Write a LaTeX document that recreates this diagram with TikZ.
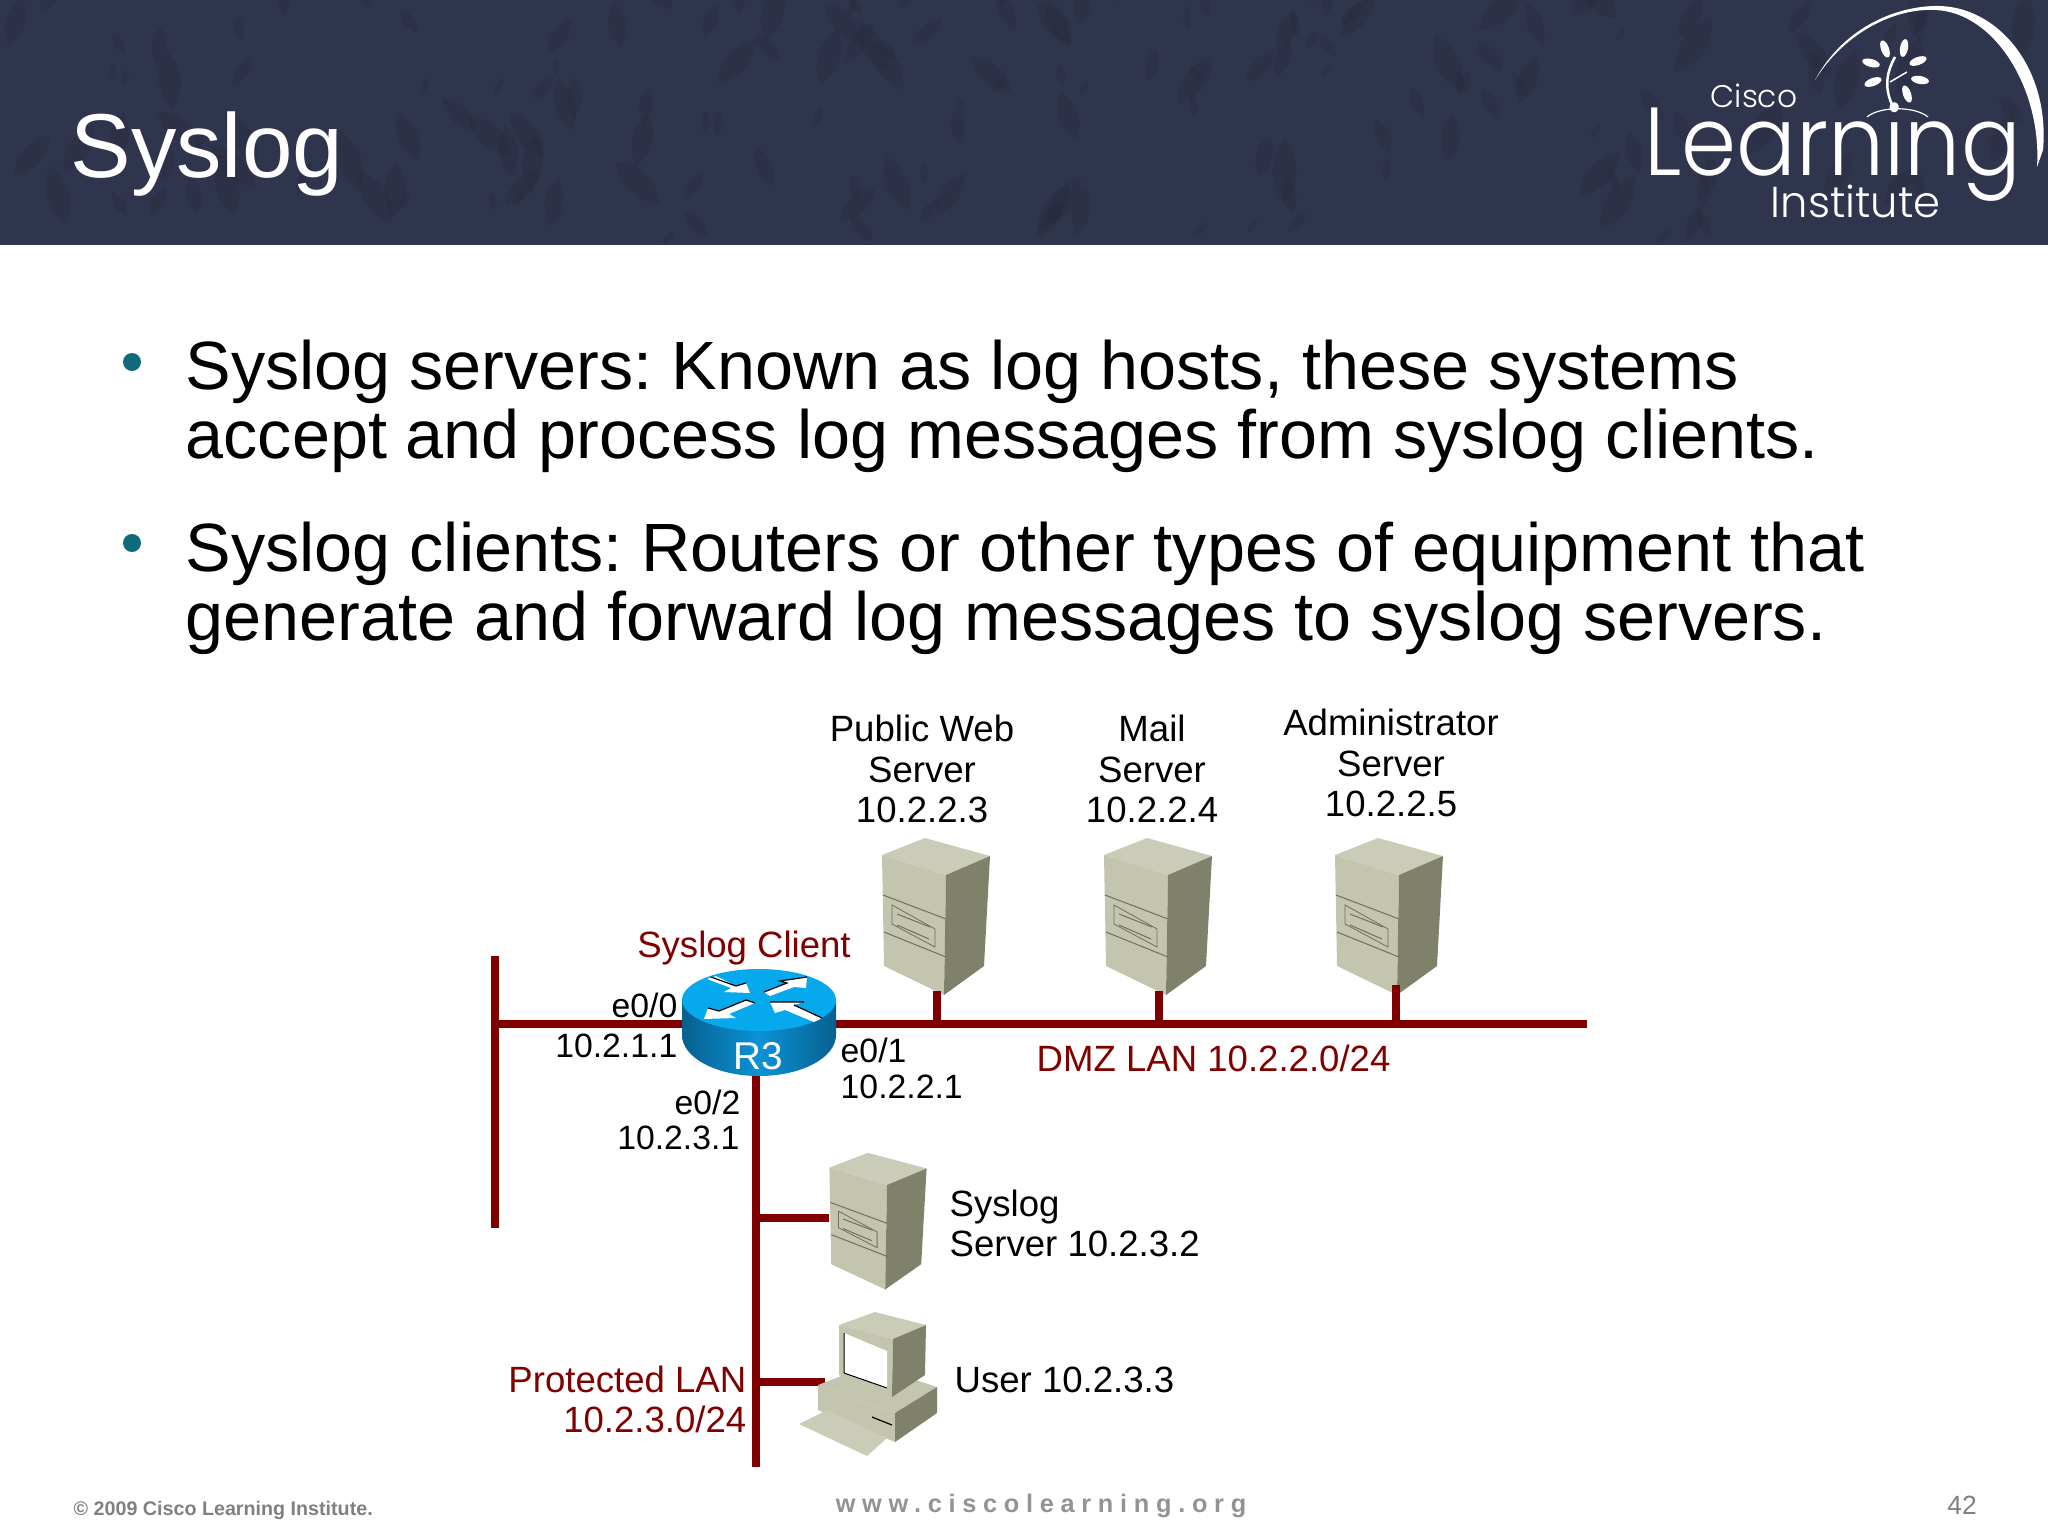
\documentclass[tikz,border=0pt]{standalone}
\usepackage{fontspec}
\setmainfont{Liberation Sans}
\newfontfamily\logofont{Poppins Light}
\newfontfamily\wwwfont[LetterSpace=26.5]{Liberation Sans Bold}
\definecolor{headbg}{HTML}{2F354C}
\definecolor{lanred}{HTML}{800000}
\definecolor{bullteal}{HTML}{0F6A7C}
\definecolor{srvtop}{HTML}{CBCCB7}
\definecolor{srvleft}{HTML}{C4C5AE}
\definecolor{srvright}{HTML}{80816A}
\definecolor{srvline}{HTML}{6F705A}
\definecolor{rtop}{HTML}{05A9EC}
\definecolor{rdark}{HTML}{07608F}
\definecolor{rmid}{HTML}{0B92D6}
\tikzset{
  lanline/.style={line width=0.075cm,color=lanred},
  lbl/.style={inner sep=0pt,font=\fontsize{10.4}{11.4}\selectfont,align=center},
  lblif/.style={inner sep=0pt,font=\fontsize{9.6}{11}\selectfont},
  lblred/.style={lbl,text=lanred},
  bodytext/.style={inner sep=0pt,anchor=base west,align=left,font=\fontsize{19.43}{19.6}\selectfont\frenchspacing},
  routerarrow/.style={fill=white},
  routeredge/.style={black,line width=0.012cm},
  serverbox/.pic={
    \fill[srvtop] (0,0) -- (-64,-20) -- (-21,-37) -- (44,-19) -- cycle;
    \fill[srvleft] (0,0) -- (-64,-20) -- (-62,91) -- (-2,120) -- cycle;
    \fill[srvright] (0,0) -- (44,-19) -- (38,91) -- (-2,120) -- cycle;
    \draw[srvline,line width=0.01cm] (-63,20) -- (0,44) (-62,57) -- (0,82);
    \draw[srvline,line width=0.008cm] (-54,30) -- (-11,54) -- (-11,72) -- (-54,49) -- cycle;
    \draw[srvline,line width=0.01cm] (-49,39) -- (-16,52) (-49,50) -- (-17,64);
    \coordinate (-base) at (-9,116);
    \coordinate (-side) at (-64,38);
  }
}
\begin{document}
\begin{tikzpicture}[x=0.01cm,y=-0.01cm]
  \useasboundingbox (0,0) rectangle (2048,1536);
  % header band
  \fill[headbg] (0,0) rectangle (2048,245);
  \begin{scope}
    \clip (0,0) rectangle (2048,245);
    \pgfmathsetseed{7}
    \foreach \i in {1,...,170} {
      \pgfmathsetmacro{\lx}{rnd*2048}
      \pgfmathsetmacro{\ly}{rnd*245}
      \pgfmathsetmacro{\la}{40+rnd*100}
      \pgfmathsetmacro{\ll}{15+rnd*50}
      \fill[black,opacity=0.06,shift={(\lx,\ly)},rotate=\la] (0,0)
        .. controls (\ll*0.3,-\ll*0.25) and (\ll*0.7,-\ll*0.25) .. (\ll,0)
        .. controls (\ll*0.7,\ll*0.25) and (\ll*0.3,\ll*0.25) .. (0,0);
    }
  \end{scope}
  \node[inner sep=0pt,anchor=base west,text=white,font=\fontsize{25.8}{27}\selectfont] (title) at (70,177) {Syslog};
  % logo
  \fill[white] (1815,80) .. controls (1845,25) and (1900,5) .. (1940,6)
    .. controls (2000,8) and (2050,70) .. (2043,150) -- (2037,167)
    .. controls (2042,90) and (1995,12) .. (1935,10)
    .. controls (1895,8) and (1845,32) .. (1815,80);
  \foreach \lx/\ly/\la in {1885/49/-70,1904/48/80,1871/63/-15,1918/61/20,1873/82/20,1920/80/-10,1907/94/-70}
    \fill[white,shift={(\lx,\ly)},rotate=\la] (0,0) ellipse (9 and 4);
  \draw[white,line width=0.025cm] (1895,57) .. controls (1885,75) and (1885,90) .. (1893,107);
  \draw[white,line width=0.015cm] (1890,82) -- (1907,72);
  \draw[white,line width=0.012cm] (1867,117) .. controls (1880,106) and (1915,106) .. (1928,117);
  \node[inner sep=0pt,anchor=base west,text=white,font=\logofont\fontsize{8.9}{10}\selectfont] (logoa) at (1710,107) {Cisco};
  \node[inner sep=0pt,anchor=base west,text=white,xscale=.915,font=\logofont\fontsize{27.5}{28}\selectfont] (logob) at (1644,175) {Learning};
  \node[inner sep=0pt,anchor=base west,text=white,font=\logofont\fontsize{12.3}{13}\selectfont] (logoc) at (1770,217) {Institute};
  % bullets
  \fill[bullteal] (132,362) circle (9);
  \fill[bullteal] (132,543) circle (9);
  \node[bodytext] (bodya) at (185,458) {Syslog servers: Known as log hosts, these systems\\accept and process log messages from syslog clients.};
  \node[bodytext] (bodyb) at (185,640) {Syslog clients: Routers or other types of equipment that\\generate and forward log messages to syslog servers.};
  % lan lines
  \coordinate (lanleft) at (495,1024);
  \coordinate (lanright) at (1587,1024);
  \coordinate (lantop) at (495,956);
  \coordinate (lanbot) at (495,1228);
  \coordinate (proup) at (756,1070);
  \coordinate (prodown) at (756,1467);
  \coordinate (pcjoin) at (825,1382);
  \coordinate (stubc) at (1396,985);
  \draw[lanline] (lantop) -- (lanbot);
  \draw[lanline] (lanleft) -- (lanright);
  \draw[lanline] (proup) -- (prodown);
  \pic (srva) at (946,875) {serverbox};
  \pic (srvb) at (1168,875) {serverbox};
  \pic (srvc) at (1399,875) {serverbox};
  \pic[xscale=.9,yscale=.87] (srvd) at (887,1185) {serverbox};
  \draw[lanline] (srva-base) -- (srva-base |- lanleft);
  \draw[lanline] (srvb-base) -- (srvb-base |- lanleft);
  \draw[lanline] (stubc) -- (stubc |- lanleft);
  \draw[lanline] (srvd-side) -- (srvd-side -| proup);
  \draw[lanline] (pcjoin) -- (pcjoin -| proup);
  % router
  \shade[left color=rdark,right color=rdark,middle color=rmid] (682,1000) -- (682,1035)
    arc[start angle=180,end angle=0,x radius=77,y radius=41] -- (836,1000) -- cycle;
  \fill[rtop] (759,1000) ellipse (77 and 31);
  \fill[routerarrow] (707,979) -- (716,976) -- (736,986) -- (746,983) -- (750,993) -- (724,992) -- (731,988) -- cycle;
  \draw[routeredge] (711,977) -- (736,986) -- (746,983);
  \fill[routerarrow] (764,992) -- (787,983) -- (780,981) -- (807,977) -- (806,988) -- (794,987) -- (770,996) -- cycle;
  \draw[routeredge] (764,992) -- (787,983) -- (780,981) -- (807,977);
  \fill[routerarrow] (704,1019) -- (708,1008) -- (719,1011) -- (746,1000) -- (755,1003) -- (729,1014) -- (736,1018) -- cycle;
  \draw[routeredge] (708,1008) -- (719,1011) -- (746,1000) -- (755,1003);
  \fill[routerarrow] (770,1002) -- (804,1002) -- (794,1005) -- (822,1018) -- (814,1022) -- (785,1010) -- (775,1013) -- cycle;
  \draw[routeredge] (770,1002) -- (804,1002) (794,1005) -- (822,1018);
  \node[inner sep=0pt,text=white,font=\fontsize{11}{12}\selectfont] (rthree) at (758,1056) {R3};
  % user pc
  \fill[srvleft] (818,1385) -- (870,1365) -- (937,1387) -- (895,1413) -- cycle;
  \fill[srvleft] (818,1385) -- (895,1413) -- (895,1442) -- (818,1410) -- cycle;
  \fill[srvright] (895,1413) -- (937,1387) -- (937,1413) -- (895,1442) -- cycle;
  \fill[srvtop] (799,1424) -- (827,1410) -- (887,1438) -- (867,1456) -- cycle;
  \draw[black,line width=0.012cm] (872,1417) -- (892,1425);
  \fill[srvtop] (875,1312) -- (926,1325) -- (893,1339) -- (839,1325) -- cycle;
  \fill[srvleft] (839,1325) -- (893,1339) -- (892,1397) -- (839,1375) -- cycle;
  \fill[srvright] (893,1339) -- (926,1325) -- (925,1375) -- (892,1397) -- cycle;
  \fill[white] (844,1333) -- (887,1351) -- (887,1388) -- (844,1373) -- cycle;
  \draw[black,line width=0.01cm] (844,1373) -- (844,1333) (844,1373) -- (887,1388);
  % labels
  \node[lbl] (lblweb) at (922,769) {Public Web\\Server\\10.2.2.3};
  \node[lbl] (lblmail) at (1152,769) {Mail\\Server\\10.2.2.4};
  \node[lbl] (lbladm) at (1391,763) {Administrator\\Server\\10.2.2.5};
  \node[lblred] (lblclient) at (744,948) {Syslog Client};
  \node[lblif,anchor=east] (lblea) at (678,1005) {e0/0};
  \node[lblif,anchor=east] (lblipa) at (678,1046) {10.2.1.1};
  \node[lblif,anchor=west] (lbleb) at (840,1050) {e0/1};
  \node[lblif,anchor=west] (lblipb) at (840,1087) {10.2.2.1};
  \node[lblif,anchor=east] (lblec) at (741,1102) {e0/2};
  \node[lblif,anchor=east] (lblipc) at (740,1138) {10.2.3.1};
  \node[lblred,anchor=west] (lbldmz) at (1036,1058) {DMZ LAN 10.2.2.0/24};
  \node[lbl,anchor=west,align=left] (lblsys) at (949,1223) {Syslog\\Server 10.2.3.2};
  \node[lbl,anchor=west] (lbluser) at (954,1380) {User 10.2.3.3};
  \node[lblred,anchor=east,align=right] (lblprot) at (747,1399) {Protected LAN\\10.2.3.0/24};
  % footer
  \node[inner sep=0pt,anchor=west,text=gray,font=\bfseries\fontsize{5.6}{6}\selectfont] (copy) at (73,1510) {© 2009 Cisco Learning Institute.};
  \node[inner sep=0pt,text=gray!85,font=\wwwfont\fontsize{7.2}{8}\selectfont] (www) at (1041,1506) {www.ciscolearning.org};
  \node[inner sep=0pt,text=gray,font=\fontsize{7.5}{8}\selectfont] (pageno) at (1962,1505) {42};
\end{tikzpicture}
\end{document}
